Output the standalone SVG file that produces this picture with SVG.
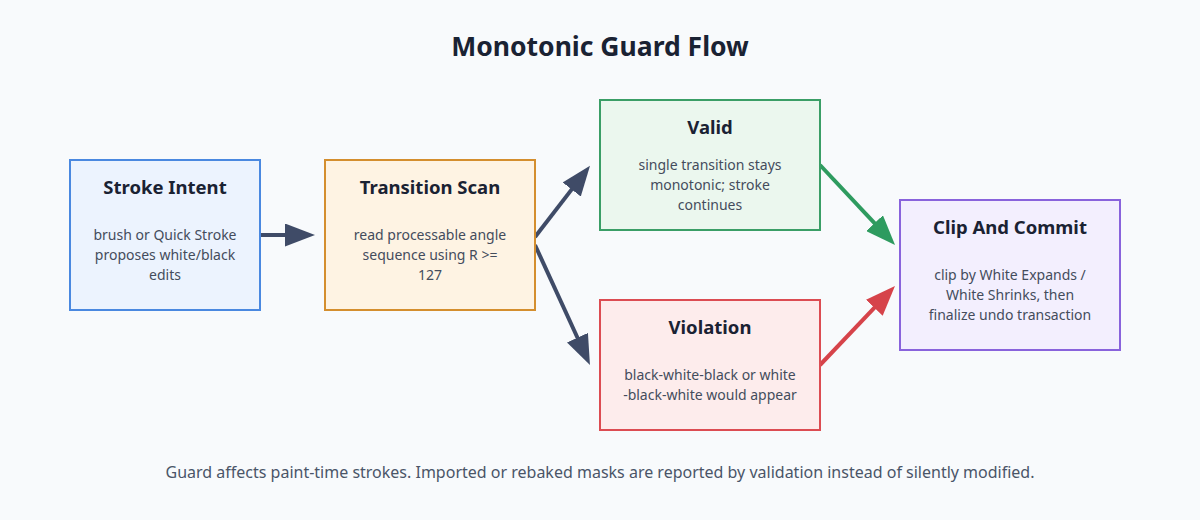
<svg xmlns="http://www.w3.org/2000/svg" width="1200" height="520" viewBox="0 0 1200 520">
  <style>
    .title { font-family: "Noto Sans", "Open Sans", sans-serif; font-weight: 700; font-size: 26.5px; fill: #1a2233; text-anchor: middle; }
    .ntitle { font-family: "Noto Sans", "Open Sans", sans-serif; font-weight: 700; font-size: 18.5px; fill: #1a2233; text-anchor: middle; }
    .body { font-family: "Noto Sans", "Open Sans", sans-serif; font-size: 14px; fill: #444c5c; text-anchor: middle; }
    .foot { font-family: "Noto Sans", "Open Sans", sans-serif; font-size: 16px; fill: #4a5568; text-anchor: middle; }
    .box { stroke-width: 2; }
    .edge { fill: none; stroke-width: 4; }
  </style>
  <defs>
    <marker id="ah-dark" viewBox="0 0 30 23" markerWidth="30" markerHeight="23" refX="2" refY="11.5" orient="auto" markerUnits="userSpaceOnUse">
      <path d="M0,0 L30,11.5 L0,23 z" fill="#3f4b67"/>
    </marker>
    <marker id="ah-green" viewBox="0 0 30 23" markerWidth="30" markerHeight="23" refX="2" refY="11.5" orient="auto" markerUnits="userSpaceOnUse">
      <path d="M0,0 L30,11.5 L0,23 z" fill="#2e9b5f"/>
    </marker>
    <marker id="ah-red" viewBox="0 0 30 23" markerWidth="30" markerHeight="23" refX="2" refY="11.5" orient="auto" markerUnits="userSpaceOnUse">
      <path d="M0,0 L30,11.5 L0,23 z" fill="#d6434a"/>
    </marker>
  </defs>
  <rect width="1200" height="520" fill="#f8fafc"/>
  <text class="title" x="600" y="56">Monotonic Guard Flow</text>

  <g id="connectors">
    <line class="edge" x1="260" y1="235" x2="287" y2="235" stroke="#3f4b67" marker-end="url(#ah-dark)"/>
    <line class="edge" x1="535" y1="237" x2="572.9" y2="187.9" stroke="#3f4b67" marker-end="url(#ah-dark)"/>
    <line class="edge" x1="535" y1="245" x2="578.3" y2="339.5" stroke="#3f4b67" marker-end="url(#ah-dark)"/>
    <line class="edge" x1="820" y1="165" x2="875.9" y2="224.6" stroke="#2e9b5f" marker-end="url(#ah-green)"/>
    <line class="edge" x1="820" y1="365" x2="875.7" y2="306.3" stroke="#d6434a" marker-end="url(#ah-red)"/>
  </g>

  <g id="stroke-intent">
    <rect class="box" x="70" y="160" width="190" height="150" fill="#ecf3fe" stroke="#4a88e0"/>
    <text class="ntitle" x="165" y="194">Stroke Intent</text>
    <text class="body" x="165" y="240">brush or Quick Stroke</text>
    <text class="body" x="165" y="260">proposes white/black</text>
    <text class="body" x="165" y="280">edits</text>
  </g>

  <g id="transition-scan">
    <rect class="box" x="325" y="160" width="210" height="150" fill="#fef3e3" stroke="#d48e2e"/>
    <text class="ntitle" x="430" y="194">Transition Scan</text>
    <text class="body" x="430" y="240">read processable angle</text>
    <text class="body" x="430" y="260">sequence using R &gt;=</text>
    <text class="body" x="430" y="280">127</text>
  </g>

  <g id="valid">
    <rect class="box" x="600" y="100" width="220" height="130" fill="#ebf7ee" stroke="#3a9e66"/>
    <text class="ntitle" x="710" y="134">Valid</text>
    <text class="body" x="710" y="170">single transition stays</text>
    <text class="body" x="710" y="190">monotonic; stroke</text>
    <text class="body" x="710" y="210">continues</text>
  </g>

  <g id="violation">
    <rect class="box" x="600" y="300" width="220" height="130" fill="#fdecec" stroke="#dc4c52"/>
    <text class="ntitle" x="710" y="334">Violation</text>
    <text class="body" x="710" y="380">black-white-black or white</text>
    <text class="body" x="710" y="400">-black-white would appear</text>
  </g>

  <g id="clip-and-commit">
    <rect class="box" x="900" y="200" width="220" height="150" fill="#f3effe" stroke="#8963dc"/>
    <text class="ntitle" x="1010" y="234">Clip And Commit</text>
    <text class="body" x="1010" y="280">clip by White Expands /</text>
    <text class="body" x="1010" y="300">White Shrinks, then</text>
    <text class="body" x="1010" y="320">finalize undo transaction</text>
  </g>

  <text class="foot" x="600" y="478">Guard affects paint-time strokes. Imported or rebaked masks are reported by validation instead of silently modified.</text>
</svg>
